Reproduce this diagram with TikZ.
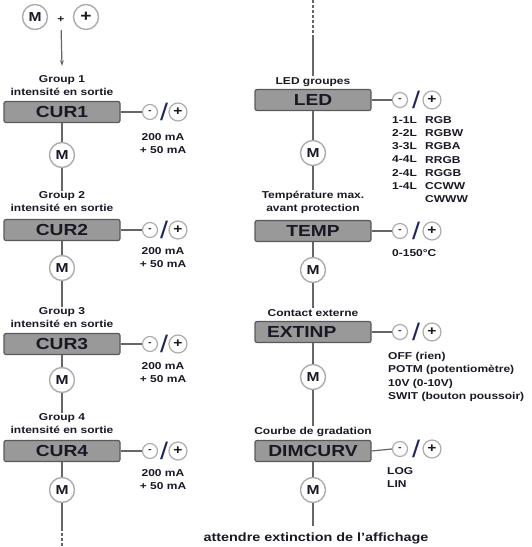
\documentclass[tikz,border=0pt]{standalone}
\usepackage{fontspec}
\setmainfont{Liberation Sans}[FakeStretch=1.2]
\usetikzlibrary{arrows.meta}
\definecolor{menugray}{rgb}{0.6,0.6,0.6}
\definecolor{framegray}{rgb}{0.35,0.35,0.35}
\definecolor{ringgray}{rgb}{0.68,0.68,0.68}
\definecolor{wiregray}{rgb}{0.4,0.4,0.4}
\definecolor{inkcolor}{rgb}{0.1,0.1,0.15}
\definecolor{slashcolor}{rgb}{0.12,0.15,0.35}

\begin{document}
\begin{tikzpicture}[x=1pt, y=-1pt,
    menubox/.style={draw=framegray, fill=menugray, line width=1.2pt, rounded corners=2pt, minimum width=116pt, minimum height=21pt, inner sep=0pt, font=\fontsize{16}{16}\selectfont\bfseries, text=inkcolor},
    mbtn/.style={circle, draw=ringgray, fill=white, line width=1.4pt, minimum size=25pt, inner sep=0pt, font=\fontsize{13}{13}\selectfont\bfseries, text=inkcolor},
    sbtn/.style={circle, draw=ringgray, fill=white, line width=1.2pt, minimum size=15pt, inner sep=0pt, font=\fontsize{9}{9}\selectfont\bfseries, text=inkcolor},
    pbtn/.style={sbtn, minimum size=18pt, font=\fontsize{13}{13}\selectfont\bfseries},
    lbl/.style={align=center, inner sep=1pt, font=\fontsize{10}{13}\selectfont\bfseries, text=inkcolor},
    vals/.style={align=left, anchor=north west, inner sep=0pt, font=\fontsize{10}{13.3}\selectfont\bfseries, text=inkcolor},
    slashtxt/.style={inner sep=0pt, font=\fontsize{24}{24}\selectfont, text=slashcolor},
    wire/.style={draw=wiregray, line width=1.2pt}]
\useasboundingbox (0,0) rectangle (532,547);
\begin{scope}
\node[mbtn] (m0) at (35,17) {M};
\node[lbl] (and0) at (61,20) {+};
\node[mbtn, font=\fontsize{16}{16}\selectfont\bfseries] (p0) at (86,17) {+};
\coordinate (a1) at (62,66);
\draw[wire, shorten <=6pt, -{Stealth[length=6pt,width=4pt]}] (and0.south) -- (a1);
% group 1
\node[lbl] (g1) at (62,86) {Group 1\\intensité en sortie};
\node[menubox] (cur1) at (62,112) {CUR1};
\node[sbtn] (mi1) at (150,112) {-};
\node[slashtxt] (sl1) at (164,112) {/};
\node[pbtn] (pl1) at (178,112) {+};
\node[lbl] (v1) at (163,144) {200 mA\\+ 50 mA};
\node[mbtn] (m1) at (62,155) {M};
\draw[wire] (cur1.east) -- (mi1.west);
\draw[wire] (cur1.south) -- (m1.north);
% group 2
\node[lbl] (g2) at (62,202) {Group 2\\intensité en sortie};
\node[menubox] (cur2) at (62,230) {CUR2};
\node[sbtn] (mi2) at (150,230) {-};
\node[slashtxt] (sl2) at (164,230) {/};
\node[pbtn] (pl2) at (178,230) {+};
\node[lbl] (v2) at (163,258) {200 mA\\+ 50 mA};
\node[mbtn] (m2) at (62,268) {M};
\draw[wire] (m1.south) -- (g2.north);
\draw[wire] (cur2.east) -- (mi2.west);
\draw[wire] (cur2.south) -- (m2.north);
% group 3
\node[lbl] (g3) at (62,318) {Group 3\\intensité en sortie};
\node[menubox] (cur3) at (62,344) {CUR3};
\node[sbtn] (mi3) at (150,344) {-};
\node[slashtxt] (sl3) at (164,344) {/};
\node[pbtn] (pl3) at (178,344) {+};
\node[lbl] (v3) at (163,373) {200 mA\\+ 50 mA};
\node[mbtn] (m3) at (62,380) {M};
\draw[wire] (m2.south) -- (g3.north);
\draw[wire] (cur3.east) -- (mi3.west);
\draw[wire] (cur3.south) -- (m3.north);
% group 4
\node[lbl] (g4) at (62,424) {Group 4\\intensité en sortie};
\node[menubox] (cur4) at (62,451) {CUR4};
\node[sbtn] (mi4) at (150,451) {-};
\node[slashtxt] (sl4) at (164,451) {/};
\node[pbtn] (pl4) at (178,451) {+};
\node[lbl] (v4) at (163,480) {200 mA\\+ 50 mA};
\node[mbtn] (m4) at (62,490) {M};
\coordinate (end4) at (62,528);
\coordinate (bot4) at (62,547);
\draw[wire] (m3.south) -- (g4.north);
\draw[wire] (cur4.east) -- (mi4.west);
\draw[wire] (cur4.south) -- (m4.north);
\draw[wire] (m4.south) -- (end4);
\draw[wire, dash pattern=on 3pt off 2pt] (end4) -- (bot4);
\end{scope}
\begin{scope}
\coordinate (top0) at (313,0);
\coordinate (mid0) at (313,36);
% LED
\node[lbl] (g5) at (313,82) {LED groupes};
\node[menubox] (led) at (313,100) {LED};
\node[sbtn] (mi5) at (400,100) {-};
\node[slashtxt] (sl5) at (416,100) {/};
\node[pbtn] (pl5) at (432,100) {+};
\node[vals] (v5a) at (392,116) {1-1L\\2-2L\\3-3L\\4-4L\\2-4L\\1-4L};
\node[vals] (v5b) at (425,116) {RGB\\RGBW\\RGBA\\RRGB\\RGGB\\CCWW\\CWWW};
\node[mbtn] (m5) at (313,153) {M};
\draw[wire, dash pattern=on 3pt off 2pt] (top0) -- (mid0);
\draw[wire] (mid0) -- (g5.north);
\draw[wire] (led.east) -- (mi5.west);
\draw[wire] (led.south) -- (m5.north);
% TEMP
\node[lbl] (g6) at (313,202) {Température max.\\avant protection};
\node[menubox] (temp) at (313,231) {TEMP};
\node[sbtn] (mi6) at (400,231) {-};
\node[slashtxt] (sl6) at (416,231) {/};
\node[pbtn] (pl6) at (432,231) {+};
\node[vals, anchor=west] (v6) at (392,253) {0-150°C};
\node[mbtn] (m6) at (313,270) {M};
\draw[wire] (m5.south) -- (g6.north);
\draw[wire] (temp.east) -- (mi6.west);
\draw[wire] (temp.south) -- (m6.north);
% EXTINP
\node[lbl] (g7) at (313,313) {Contact externe};
\node[menubox, text width=92pt, align=left] (extinp) at (313,332) {EXTINP};
\node[sbtn] (mi7) at (400,332) {-};
\node[slashtxt] (sl7) at (416,332) {/};
\node[pbtn] (pl7) at (432,332) {+};
\node[vals] (v7) at (388,352) {OFF (rien)\\POTM (potentiomètre)\\10V (0-10V)\\SWIT (bouton poussoir)};
\node[mbtn] (m7) at (313,377) {M};
\draw[wire] (m6.south) -- (g7.north);
\draw[wire] (extinp.east) -- (mi7.west);
\draw[wire] (extinp.south) -- (m7.north);
% DIMCURV
\node[lbl] (g8) at (313,432) {Courbe de gradation};
\node[menubox] (dimcurv) at (313,451) {DIMCURV};
\node[sbtn] (mi8) at (400,449) {-};
\node[slashtxt] (sl8) at (416,449) {/};
\node[pbtn] (pl8) at (432,449) {+};
\node[vals] (v8) at (387,467) {LOG\\LIN};
\node[mbtn] (m8) at (313,490) {M};
\node[lbl, font=\fontsize{12}{14}\selectfont\bfseries] (fin) at (316,538) {attendre extinction de l'affichage};
\coordinate (end8) at (313,526);
\draw[wire] (m7.south) -- (g8.north);
\draw[wire] (dimcurv.east) -- (mi8.west);
\draw[wire] (dimcurv.south) -- (m8.north);
\draw[wire] (m8.south) -- (end8);
\end{scope}
\end{tikzpicture}
\end{document}
